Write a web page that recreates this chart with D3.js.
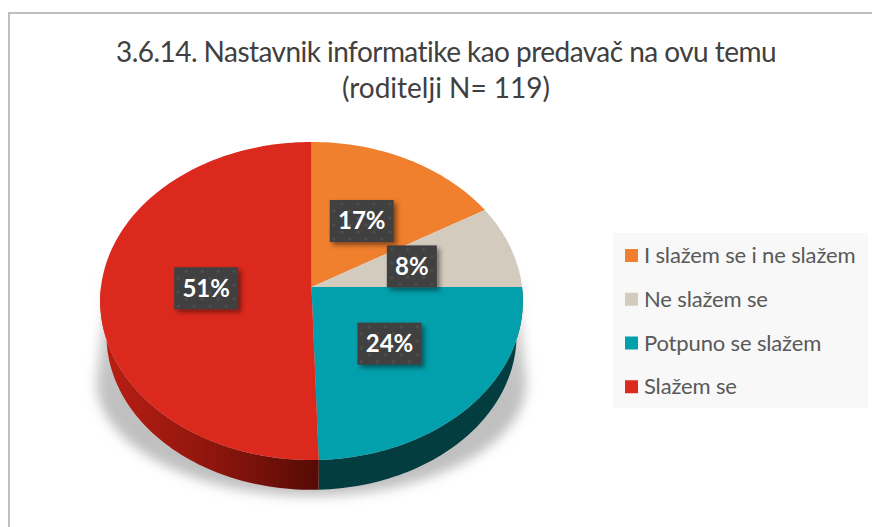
<!DOCTYPE html>
<html>
<head>
<meta charset="utf-8">
<script src="https://cdn.jsdelivr.net/npm/d3@7"></script>
<style>
  html, body { margin: 0; padding: 0; background: #fff; }
  svg { display: block; }
  text { font-family: Lato, sans-serif; }
</style>
</head>
<body>
<svg id="chart" width="872" height="527"></svg>
<script>
var categories = ["I slažem se i ne slažem", "Ne slažem se", "Potpuno se slažem", "Slažem se"];
// slice sizes as measured on the picture, the printed labels are rounded differently
var shares = [16.5, 8.5, 24.5, 50.5];
var labels = ["17%", "8%", "24%", "51%"];
var colors = ["#f07f2e", "#d2cbbe", "#02a0ac", "#dc291e"];
var titleLines = ["3.6.14. Nastavnik informatike kao predavač na ovu temu", "(roditelji N= 119)"];

var cx = 311.5, cy = 287, rx = 210.5, ry = 157.8, tilt = 0.088, depth = 35;

var svg = d3.select("#chart");
var defs = svg.append("defs");

// tilted disc: nearer edge is drawn a bit bigger than the far one
function project(angle, r, scale, dy) {
  var X = Math.sin(angle) * r, Y = -Math.cos(angle) * r;
  var w = 1 - tilt * Y;
  return [cx + scale * rx * X / w, cy + dy + scale * ry * Y / w];
}

function edge(a0, a1, r, scale, dy) {
  var n = Math.max(2, Math.ceil((a1 - a0) * 40));
  return d3.range(n + 1).map(function(i) {
    return project(a0 + (a1 - a0) * i / n, r, scale, dy);
  });
}

// floor shadow: straight flare down from the disc, then a rounded front
function shadowOutline() {
  var flareTop = 272, flareBottom = 382, halfWide = 215, front = 114;
  var pts = [[cx - rx + 6, flareTop], [cx + rx - 6, flareTop]];
  d3.range(0, 61).forEach(function(i) {
    var a = Math.PI * i / 60;
    pts.push([cx + halfWide * Math.cos(a), flareBottom + front * Math.sin(a)]);
  });
  return pts;
}

var line = d3.line();
var color = d3.scaleOrdinal().domain(categories).range(colors);
var slices = d3.pie().sort(null).value(function(d) { return d.share; })
  (categories.map(function(c, i) { return {name: c, share: shares[i], label: labels[i]}; }));

// defs
var blur = defs.append("filter").attr("id", "soft")
  .attr("x", "-10%").attr("y", "-10%").attr("width", "120%").attr("height", "120%");
blur.append("feGaussianBlur").attr("stdDeviation", 6);

var boxShadow = defs.append("filter").attr("id", "boxShadow")
  .attr("x", "-20%").attr("y", "-20%").attr("width", "150%").attr("height", "150%");
boxShadow.append("feDropShadow").attr("dx", 3).attr("dy", 3).attr("stdDeviation", 2.5)
  .attr("flood-color", "#000").attr("flood-opacity", 0.45);

var floor = defs.append("linearGradient").attr("id", "floor")
  .attr("gradientUnits", "userSpaceOnUse").attr("x1", 0).attr("x2", 0).attr("y1", 272).attr("y2", 400);
floor.append("stop").attr("offset", 0).attr("stop-color", "#d8d8d8").attr("stop-opacity", 0.6);
floor.append("stop").attr("offset", 0.6).attr("stop-color", "#c8c8c8").attr("stop-opacity", 1);
floor.append("stop").attr("offset", 1).attr("stop-color", "#c0c0c0").attr("stop-opacity", 1);

var redWall = defs.append("linearGradient").attr("id", "redWall")
  .attr("gradientUnits", "userSpaceOnUse").attr("x1", 105).attr("x2", 318).attr("y1", 0).attr("y2", 0);
redWall.append("stop").attr("offset", 0).attr("stop-color", "#b81e13");
redWall.append("stop").attr("offset", 0.5).attr("stop-color", "#8e160d");
redWall.append("stop").attr("offset", 1).attr("stop-color", "#560b05");

var dots = defs.append("pattern").attr("id", "dots").attr("patternUnits", "userSpaceOnUse")
  .attr("width", 16).attr("height", 14);
dots.append("rect").attr("width", 16).attr("height", 14).attr("fill", "#404040");
dots.append("circle").attr("cx", 4).attr("cy", 4).attr("r", 1.6).attr("fill", "#505050");
dots.append("circle").attr("cx", 12).attr("cy", 11).attr("r", 1.6).attr("fill", "#505050");

// chart frame, it runs off the page on the right and bottom
svg.append("rect")
  .attr("x", 9).attr("y", 13).attr("width", 900).attr("height", 560)
  .attr("fill", "#fff").attr("stroke", "#bfbfbf").attr("stroke-width", 2);

// title
svg.append("g").selectAll("text")
  .data(titleLines)
  .enter().append("text")
    .attr("x", 446)
    .attr("y", function(d, i) { return 62 + i * 36; })
    .attr("text-anchor", "middle")
    .attr("font-size", 28)
    .attr("letter-spacing", function(d, i) { return i === 0 ? -0.54 : 0; })
    .attr("fill", "#404040")
    .text(function(d) { return d; });

// floor shadow under the disc
svg.append("path")
  .attr("d", line(shadowOutline()) + "Z")
  .attr("fill", "url(#floor)")
  .attr("filter", "url(#soft)");

// side wall, only the front half shows
var front = slices.map(function(s) {
  return {d: s, a0: Math.max(s.startAngle, Math.PI / 2), a1: Math.min(s.endAngle, 3 * Math.PI / 2)};
}).filter(function(f) { return f.a1 > f.a0; });

svg.append("g").selectAll("path")
  .data(front)
  .enter().append("path")
    .attr("d", function(f) {
      var top = edge(f.a0, f.a1, 1, 1, 0);
      var bottom = edge(f.a0, f.a1, 1, 0.97, depth).reverse();
      return line(top.concat(bottom)) + "Z";
    })
    .attr("fill", function(f) { return f.d.data.name === "Slažem se" ? "url(#redWall)" : "#033d40"; });

// top face
svg.append("g").selectAll("path")
  .data(slices)
  .enter().append("path")
    .attr("d", function(s) {
      return line([[cx, cy]].concat(edge(s.startAngle, s.endAngle, 1, 1, 0))) + "Z";
    })
    .attr("fill", function(s) { return color(s.data.name); });

// percent labels
var boxW = 64, boxH = 42;
var tags = svg.append("g").selectAll("g")
  .data(slices)
  .enter().append("g")
    .attr("transform", function(s) {
      var p = project((s.startAngle + s.endAngle) / 2, 0.5, 1, 0);
      return "translate(" + p[0] + "," + p[1] + ")";
    });

tags.append("rect")
  .attr("x", function(s) { return s.data.label.length < 3 ? -25 : -boxW / 2; })
  .attr("y", -boxH / 2)
  .attr("width", function(s) { return s.data.label.length < 3 ? 50 : boxW; })
  .attr("height", boxH)
  .attr("fill", "url(#dots)")
  .attr("filter", "url(#boxShadow)");

tags.append("text")
  .attr("text-anchor", "middle")
  .attr("y", 8.5)
  .attr("font-size", 24)
  .attr("font-weight", 700)
  .attr("fill", "#fff")
  .text(function(s) { return s.data.label; });

// legend
var legendY = d3.scaleBand().domain(categories).range([233, 408]);

svg.append("rect")
  .attr("x", 613).attr("y", 233).attr("width", 255).attr("height", 175)
  .attr("fill", "#f8f8f8");

var legend = svg.append("g").selectAll("g")
  .data(categories)
  .enter().append("g")
    .attr("transform", function(d) { return "translate(625," + legendY(d) + ")"; });

legend.append("rect")
  .attr("y", 16)
  .attr("width", 13).attr("height", 13)
  .attr("fill", function(d) { return color(d); });

legend.append("text")
  .attr("x", 19)
  .attr("y", 30)
  .attr("font-size", 22)
  .attr("letter-spacing", -0.15)
  .attr("fill", "#595959")
  .text(function(d) { return d; });
</script>
</body>
</html>
